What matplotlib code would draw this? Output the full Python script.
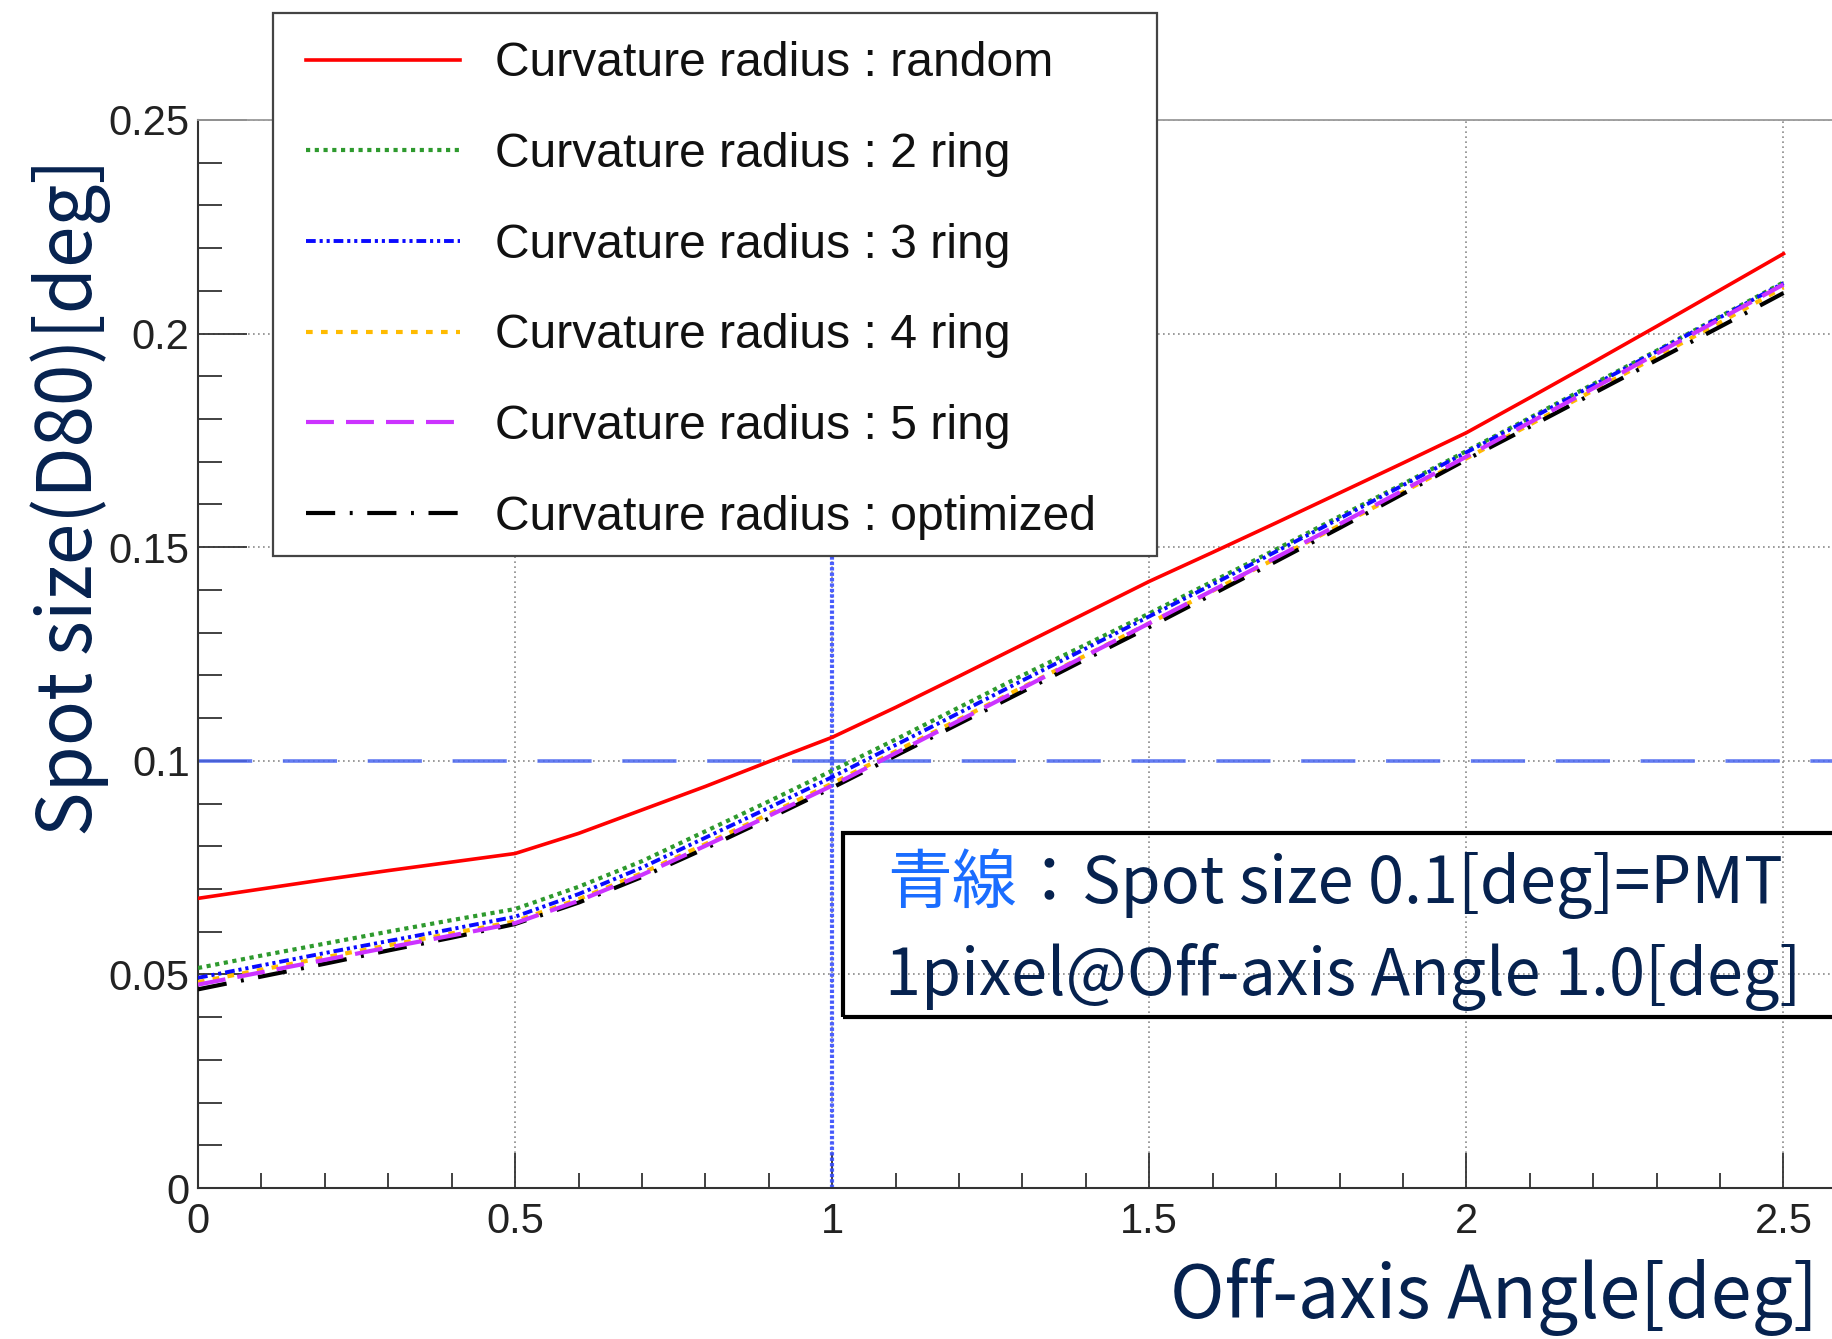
import matplotlib
matplotlib.use("Agg")
import matplotlib.pyplot as plt
from matplotlib.ticker import MultipleLocator, FuncFormatter
from matplotlib.patches import Rectangle

# ---------------- data ----------------
angle = [0.0, 0.1, 0.2, 0.3, 0.4, 0.5, 0.6, 0.7, 0.8, 0.9, 1.0, 1.1, 1.2,
         1.3, 1.4, 1.5, 1.6, 1.7, 1.8, 1.9, 2.0, 2.1, 2.2, 2.3, 2.4, 2.5]

spot_random = [0.0678, 0.0700, 0.0722, 0.0743, 0.0763, 0.0783, 0.0830, 0.0885, 0.0940,
               0.0998, 0.1055, 0.1125, 0.1198, 0.1272, 0.1346, 0.1420, 0.1488, 0.1557,
               0.1627, 0.1697, 0.1768, 0.1850, 0.1933, 0.2017, 0.2102, 0.2187]
spot_2ring = [0.0515, 0.0544, 0.0572, 0.0600, 0.0627, 0.0653, 0.0705, 0.0765, 0.0835,
              0.0905, 0.0977, 0.1050, 0.1125, 0.1200, 0.1272, 0.1345, 0.1420, 0.1495,
              0.1572, 0.1648, 0.1725, 0.1803, 0.1882, 0.1960, 0.2040, 0.2120]
spot_3ring = [0.0492, 0.0521, 0.0550, 0.0578, 0.0606, 0.0635, 0.0688, 0.0750, 0.0820,
              0.0890, 0.0962, 0.1037, 0.1112, 0.1188, 0.1263, 0.1338, 0.1413, 0.1490,
              0.1567, 0.1645, 0.1722, 0.1800, 0.1879, 0.1958, 0.2038, 0.2118]
spot_4ring = [0.0482, 0.0511, 0.0540, 0.0568, 0.0596, 0.0624, 0.0676, 0.0737, 0.0805,
              0.0875, 0.0947, 0.1022, 0.1097, 0.1172, 0.1247, 0.1322, 0.1398, 0.1474,
              0.1551, 0.1629, 0.1708, 0.1787, 0.1867, 0.1946, 0.2026, 0.2108]
spot_5ring = [0.0476, 0.0505, 0.0534, 0.0563, 0.0591, 0.0620, 0.0672, 0.0733, 0.0801,
              0.0871, 0.0942, 0.1018, 0.1094, 0.1170, 0.1246, 0.1322, 0.1399, 0.1476,
              0.1554, 0.1633, 0.1712, 0.1792, 0.1872, 0.1953, 0.2034, 0.2115]
spot_opt = [0.0465, 0.0495, 0.0525, 0.0556, 0.0586, 0.0618, 0.0668, 0.0728, 0.0795,
            0.0865, 0.0937, 0.1012, 0.1087, 0.1162, 0.1238, 0.1313, 0.1390, 0.1467,
            0.1545, 0.1625, 0.1705, 0.1782, 0.1860, 0.1938, 0.2016, 0.2095]

series_labels = ["Curvature radius : random", "Curvature radius : 2 ring",
                 "Curvature radius : 3 ring", "Curvature radius : 4 ring",
                 "Curvature radius : 5 ring", "Curvature radius : optimized"]

pmt_spot = 0.1      # blue reference: spot size [deg]
pmt_angle = 1.0     # blue reference: off-axis angle [deg]

x_label = "Off-axis Angle[deg]"
y_label = "Spot size(D80)[deg]"
note_blue = "青線"
note_rest = "：Spot size 0.1[deg]=PMT"
note_line2 = "1pixel@Off-axis Angle 1.0[deg]"

# ---------------- figure ----------------
W, H = 1833, 1339
fig = plt.figure(figsize=(W / 100, H / 100), dpi=100)
fig.patch.set_facecolor("white")

ax_left, ax_bottom_px, ax_top_px = 198, 1188, 120
px_per_unit = 634.2
x_max = 2.58
ax = fig.add_axes([ax_left / W, 1 - ax_bottom_px / H,
                   x_max * px_per_unit / W, (ax_bottom_px - ax_top_px) / H])
ax.set_xlim(0, x_max)
ax.set_ylim(0, 0.25)

navy = "#06224f"
tick_font = "Liberation Sans"
jp_font = ["Noto Sans CJK JP", "DejaVu Sans"]

# grid
ax.xaxis.set_major_locator(MultipleLocator(0.5))
ax.xaxis.set_minor_locator(MultipleLocator(0.1))
ax.yaxis.set_major_locator(MultipleLocator(0.05))
ax.yaxis.set_minor_locator(MultipleLocator(0.01))
fmt = FuncFormatter(lambda v, p: f"{v:g}")
ax.xaxis.set_major_formatter(fmt)
ax.yaxis.set_major_formatter(fmt)
ax.grid(True, which="major", color="#8a8a8a", linestyle=(0, (1, 2)), linewidth=1.2, zorder=0)
ax.set_axisbelow(True)

# blue reference lines
ax.axhline(pmt_spot, color="#4a66f0", linewidth=2.6, linestyle=(0, (15, 8.5)), zorder=1.5, alpha=0.85)
ax.axvline(pmt_angle, color="#3a50ff", linewidth=3.0, linestyle=(0, (0.8, 0.5)), zorder=1.5, alpha=0.9)

# curves
ax.plot(angle, spot_random, color="#ff0000", linewidth=2.6, linestyle="-",
        label=series_labels[0], zorder=3)
ax.plot(angle, spot_2ring, color="#2e9a2e", linewidth=3.0, linestyle=(0, (1, 1.1)),
        label=series_labels[1], zorder=3)
ax.plot(angle, spot_3ring, color="#0a0aff", linewidth=2.8, linestyle=(0, (2.5, 1, 0.8, 1, 0.8, 1)),
        label=series_labels[2], zorder=3)
ax.plot(angle, spot_4ring, color="#ffbb00", linewidth=3.0, linestyle=(0, (1.6, 2.0)),
        label=series_labels[3], zorder=3)
ax.plot(angle, spot_opt, color="#000000", linewidth=3.0, linestyle=(0, (7, 3.5, 0.7, 3.5)),
        label=series_labels[5], zorder=3)
ax.plot(angle, spot_5ring, color="#cc33ff", linewidth=3.0, linestyle=(0, (6.7, 2.9)),
        label=series_labels[4], zorder=3.2)

# spines
for s in ("left", "bottom"):
    ax.spines[s].set_color("#333333")
    ax.spines[s].set_linewidth(1.5)
ax.spines["top"].set_color("#9a9a9a")
ax.spines["top"].set_linewidth(1.3)
ax.spines["right"].set_visible(False)

# ticks
ax.tick_params(axis="x", which="major", direction="in", length=25, width=1.3,
               color="#333333", pad=10, labelsize=30, labelcolor="#222222")
ax.tick_params(axis="x", which="minor", direction="in", length=11, width=1.3, color="#333333")
ax.tick_params(axis="y", which="major", direction="in", length=35, width=1.3,
               color="#333333", pad=6, labelsize=30, labelcolor="#222222")
ax.tick_params(axis="y", which="minor", direction="in", length=17, width=1.3, color="#333333")
ax.tick_params(top=False, right=False, which="both")
for lab in ax.get_xticklabels() + ax.get_yticklabels():
    lab.set_fontfamily(tick_font)

# legend frame (drawn manually) + legend entries
leg_rect = Rectangle((273 / W, 1 - 556 / H), (1157 - 273) / W, (556 - 13) / H,
                     transform=fig.transFigure, facecolor="white", edgecolor="#444444",
                     linewidth=1.6, zorder=4, clip_on=False)
ax.add_patch(leg_rect)
handles, labels = ax.get_legend_handles_labels()
order = [labels.index(l) for l in series_labels]
leg = ax.legend([handles[i] for i in order], [labels[i] for i in order],
                loc="center left", bbox_to_anchor=(306 / W, 1 - 290.5 / H),
                bbox_transform=fig.transFigure, frameon=False, borderpad=0,
                borderaxespad=0, handlelength=3.2, handletextpad=0.73,
                labelspacing=0.95, prop={"family": tick_font, "size": 34.6})
leg.set_zorder(5)
for t in leg.get_texts():
    t.set_color("#111111")

# axis labels
ax.set_xlabel(x_label, fontsize=46, color=navy, family=jp_font, ha="right", va="baseline")
ax.xaxis.set_label_coords((1818 - ax_left) / (x_max * px_per_unit),
                          -(1318 - ax_bottom_px) / (ax_bottom_px - ax_top_px))
ax.set_ylabel(y_label, fontsize=46, color=navy, family=jp_font, ha="center", va="center")
ax.yaxis.set_label_coords((71 - ax_left) / (x_max * px_per_unit),
                          (ax_bottom_px - 497) / (ax_bottom_px - ax_top_px))

# annotation box
box = Rectangle((843 / W, 1 - 1017 / H), (1950 - 843) / W, (1017 - 833) / H,
                transform=fig.transFigure, facecolor="none", edgecolor="#000000",
                linewidth=3.0, zorder=6, clip_on=False)
ax.add_patch(box)
t1 = fig.text(887 / W, 1 - 903 / H, note_blue, color="#1a6dff", fontsize=40,
              family=jp_font, va="baseline", ha="left", zorder=7)
t3 = fig.text(885 / W, 1 - 995 / H, note_line2, color=navy, fontsize=40,
              family=jp_font, va="baseline", ha="left", zorder=7)

renderer = fig.canvas.get_renderer()

# scale text sizes to the measured widths of the reference
def fit(t, target, use_height=False):
    bb = t.get_window_extent(renderer)
    cur = bb.height if use_height else bb.width
    t.set_fontsize(t.get_fontsize() * target / cur)

fit(t3, 918)
t1.set_fontsize(t3.get_fontsize())
bb1 = t1.get_window_extent(renderer)
t2 = fig.text(bb1.x1 / W, 1 - 903 / H, note_rest, color=navy, fontsize=t3.get_fontsize(),
              family=jp_font, va="baseline", ha="left", zorder=7)
fit(ax.xaxis.label, 648)
fit(ax.yaxis.label, 678, use_height=True)

fig.savefig("out.png", dpi=100, facecolor="white")
